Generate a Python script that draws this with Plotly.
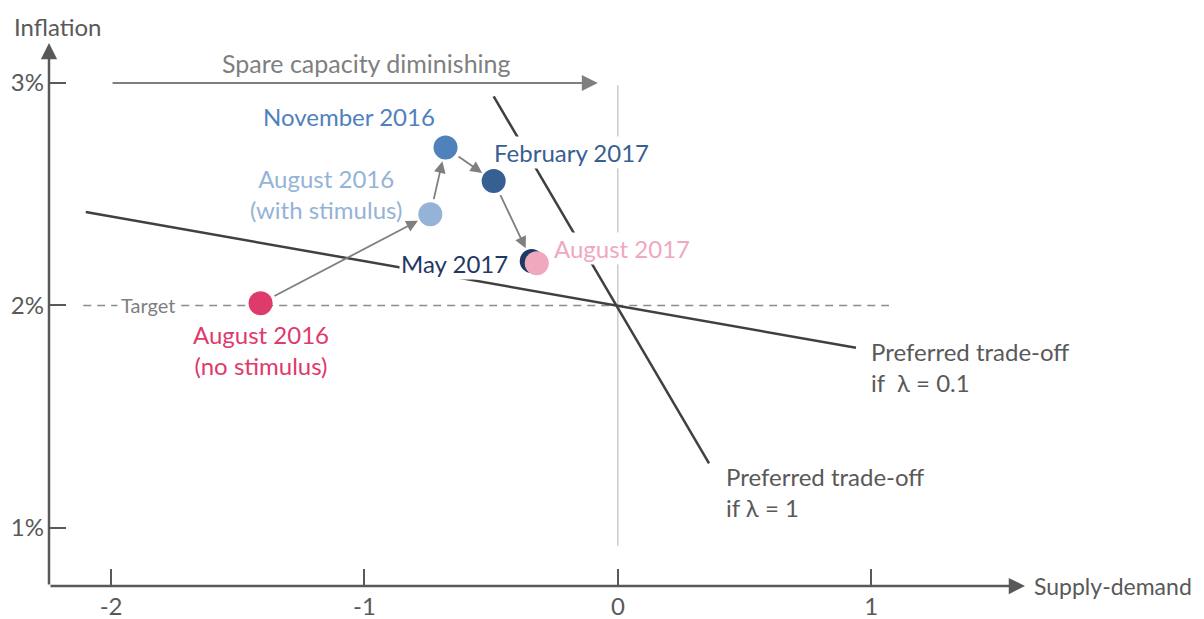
import plotly.graph_objects as go

# ---------------- data ----------------
point_names = ["August 2016 (no stimulus)", "August 2016 (with stimulus)", "November 2016",
               "February 2017", "May 2017", "August 2017"]
supply_demand = [-1.41, -0.74, -0.68, -0.49, -0.34, -0.32]
inflation = [2.01, 2.41, 2.71, 2.56, 2.20, 2.19]
point_colors = ["#DE3A6C", "#95B3D7", "#4F81BD", "#376092", "#1F3864", "#F0A8BE"]

lambda01_x = [-2.10, 0.94]
lambda01_y = [2.42, 1.81]
lambda1_x = [-0.49, 0.36]
lambda1_y = [2.94, 1.29]
target_x = [-2.11, 1.07]
target_y = [2.0, 2.0]
zero_x = [0.0, 0.0]
zero_y = [0.92, 2.99]

x_ticks = [-2, -1, 0, 1]
x_tick_text = ["-2", "-1", "0", "1"]
y_ticks = [1, 2, 3]
y_tick_text = ["1%", "2%", "3%"]

FONT = "Lato"
FS = 24
AXC = "#595959"
GREY = "#7F7F7F"

fig = go.Figure()

fig.add_trace(go.Scatter(x=target_x, y=target_y, mode="lines",
                         line=dict(color="#8C8C8C", width=1.3, dash="8px,6px"),
                         hoverinfo="skip", showlegend=False))
fig.add_trace(go.Scatter(x=zero_x, y=zero_y, mode="lines",
                         line=dict(color="#BFBFBF", width=1.2),
                         hoverinfo="skip", showlegend=False))
fig.add_trace(go.Scatter(x=lambda01_x, y=lambda01_y, mode="lines",
                         line=dict(color="#404040", width=2.5),
                         hoverinfo="skip", showlegend=False))
fig.add_trace(go.Scatter(x=lambda1_x, y=lambda1_y, mode="lines",
                         line=dict(color="#404040", width=2.5),
                         hoverinfo="skip", showlegend=False))
fig.add_trace(go.Scatter(x=supply_demand, y=inflation, mode="markers",
                         marker=dict(color=point_colors, size=24, line=dict(width=0)),
                         text=point_names, hoverinfo="text", showlegend=False))

ann = []
# arrows between points
for i in range(4):
    ann.append(dict(x=supply_demand[i + 1], y=inflation[i + 1], ax=supply_demand[i], ay=inflation[i],
                    xref="x", yref="y", axref="x", ayref="y", text="", showarrow=True,
                    arrowhead=2, arrowsize=1.3, arrowwidth=1.8, arrowcolor=GREY,
                    standoff=14, startstandoff=14))

# spare capacity arrow
ann.append(dict(x=-0.079, y=3.0, ax=-2.0, ay=3.0, xref="x", yref="y", axref="x", ayref="y",
                text="", showarrow=True, arrowhead=2, arrowsize=1.6, arrowwidth=2, arrowcolor=GREY))
ann.append(dict(x=-0.99, y=3.09, xref="x", yref="y", text="Spare capacity diminishing",
                showarrow=False, font=dict(family=FONT, size=25, color=GREY)))

# axes arrows
ann.append(dict(x=0, y=1, ax=0, ay=0, xref="x domain", yref="y domain", axref="x domain",
                ayref="y domain", text="", showarrow=True, arrowhead=2, arrowsize=1.3,
                arrowwidth=2.5, arrowcolor=AXC))
ann.append(dict(x=1, y=0, ax=0, ay=0, xref="x domain", yref="y domain", axref="x domain",
                ayref="y domain", text="", showarrow=True, arrowhead=2, arrowsize=1.3,
                arrowwidth=2.5, arrowcolor=AXC))
ann.append(dict(x=0.0092, y=1.031, xref="paper", yref="paper", text="Inflation", showarrow=False,
                xanchor="center", yanchor="middle", font=dict(family=FONT, size=FS, color=AXC)))
ann.append(dict(x=1.0102, y=0, xref="paper", yref="paper", text="Supply-demand", showarrow=False,
                xanchor="left", yanchor="middle", xshift=-3,
                font=dict(family=FONT, size=23, color=AXC)))

# target label
ann.append(dict(x=-1.855, y=2.0, xref="x", yref="y", text="Target", showarrow=False,
                bgcolor="white", borderpad=3, font=dict(family=FONT, size=20, color=GREY)))

# point labels
lab = dict(xref="x", yref="y", showarrow=False)
ann.append(dict(lab, x=supply_demand[0], y=inflation[0], text="August 2016<br>(no stimulus)",
                yshift=-47, font=dict(family=FONT, size=FS, color=point_colors[0])))
ann.append(dict(lab, x=supply_demand[1], y=inflation[1], text="August 2016<br>(with stimulus)",
                xshift=-104, yshift=20, font=dict(family=FONT, size=FS, color=point_colors[1])))
ann.append(dict(lab, x=supply_demand[2], y=inflation[2], text="November 2016",
                xshift=-97, yshift=31, font=dict(family=FONT, size=FS, color=point_colors[2])))
ann.append(dict(lab, x=supply_demand[3], y=inflation[3], text="February 2017", xanchor="left",
                xshift=-2, yshift=28, bgcolor="white",
                font=dict(family=FONT, size=FS, color=point_colors[3])))
ann.append(dict(lab, x=supply_demand[4], y=inflation[4], text="May 2017", xanchor="right",
                xshift=-22, yshift=-2, bgcolor="white",
                font=dict(family=FONT, size=FS, color=point_colors[4])))
ann.append(dict(lab, x=supply_demand[5], y=inflation[5], text="August 2017", xanchor="left",
                xshift=15, yshift=15, bgcolor="white",
                font=dict(family=FONT, size=FS, color=point_colors[5])))

# trade-off labels
ann.append(dict(lab, x=0.99, y=1.724, text="Preferred trade-off<br>if  λ = 0.1", xanchor="left",
                align="left", font=dict(family=FONT, size=FS, color=AXC)))
ann.append(dict(lab, x=0.418, y=1.162, text="Preferred trade-off<br>if λ = 1", xanchor="left",
                align="left", font=dict(family=FONT, size=FS, color=AXC)))

fig.update_layout(
    width=1196, height=611,
    margin=dict(l=41, r=179, t=35, b=33),
    plot_bgcolor="white", paper_bgcolor="white",
    annotations=ann,
    xaxis=dict(range=[-2.245, 1.607], showgrid=False, zeroline=False, showline=False,
               automargin=False, ticklabelstandoff=4,
               ticks="inside", ticklen=17, tickwidth=2, tickcolor=AXC,
               tickvals=x_ticks, ticktext=x_tick_text,
               tickfont=dict(family=FONT, size=FS, color=AXC)),
    yaxis=dict(range=[0.739, 3.18], showgrid=False, zeroline=False, showline=False,
               automargin=False, ticklabelstandoff=4,
               ticks="inside", ticklen=17, tickwidth=2, tickcolor=AXC,
               tickvals=y_ticks, ticktext=y_tick_text,
               tickfont=dict(family=FONT, size=FS, color=AXC)),
)

fig.write_html("out.html")
